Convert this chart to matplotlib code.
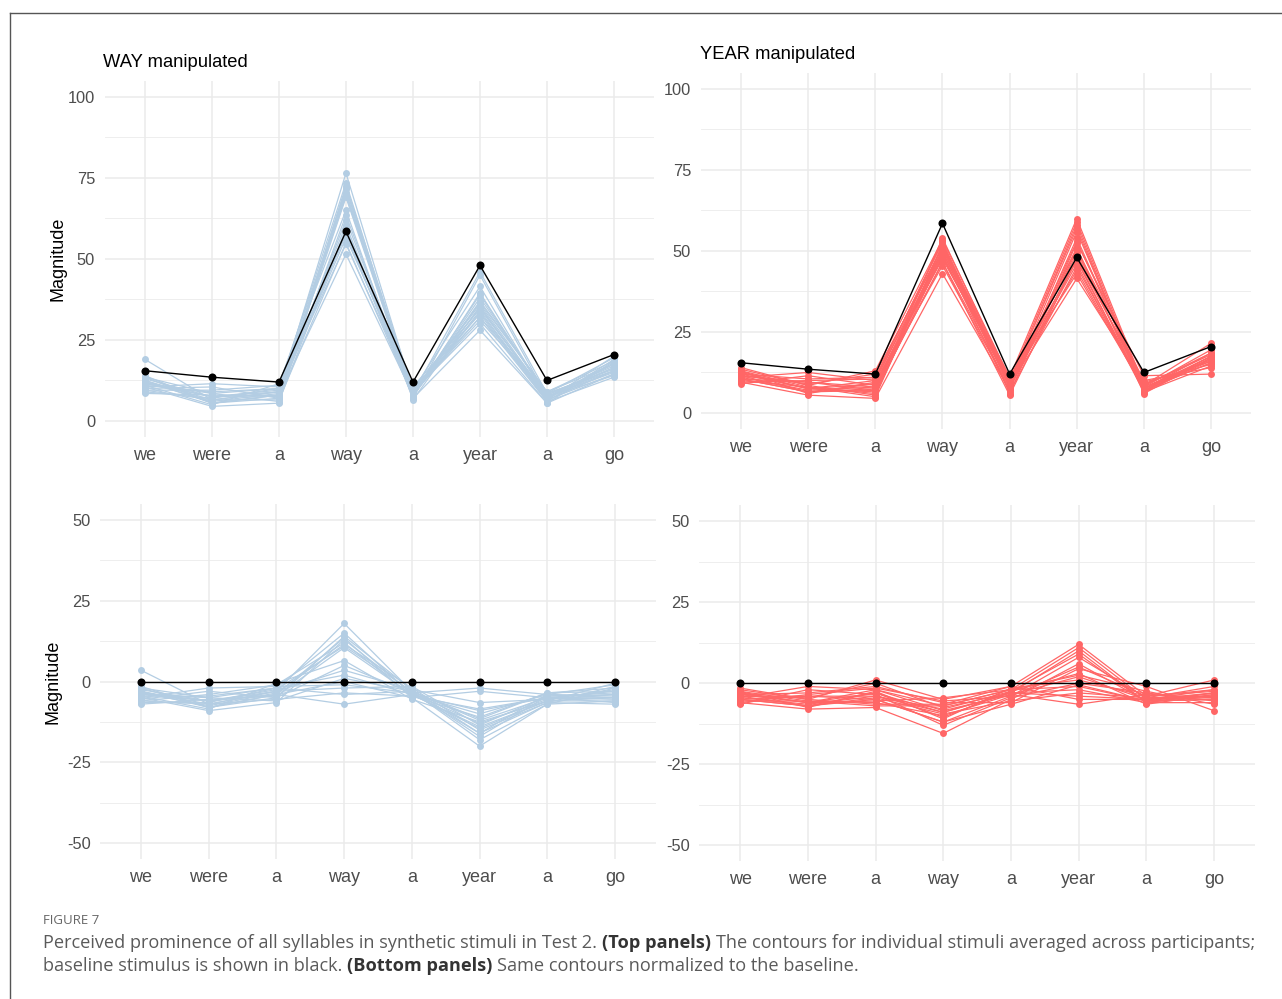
import numpy as np
import matplotlib
matplotlib.use('Agg')
import matplotlib.pyplot as plt
from matplotlib.lines import Line2D
from matplotlib.transforms import IdentityTransform

plt.rcParams['font.family'] = ['Liberation Sans', 'DejaVu Sans']
plt.rcParams['axes.unicode_minus'] = False

syllables = ['we', 'were', 'a', 'way', 'a', 'year', 'a', 'go']

# baseline stimulus, magnitude averaged across participants
baseline = [15.5, 13.5, 12.0, 58.5, 12.0, 48.0, 12.5, 20.5]

# WAY manipulated: stimulus minus baseline, one list per syllable (20 stimuli)
way_we   = [3.5, -2, -3, -4, -5, -6, -3.5, -2.5, -7, -4.5, -5.5, -3, -6.5, -4, -2, -5, -3.5, -6, -4.5, -1.5]
way_were = [-7, -5, -8, -6, -9, -4, -7.5, -6, -5.5, -8.5, -3, -7, -6.5, -5, -8, -2, -6, -7, -4.5, -8]
way_a1   = [-3, -2, -5, -4, -6.5, -1, -3.5, -2.5, -4.5, -0.5, -5, -3, -2, -6, -4, -1.5, -3, -5.5, -2, -4]
way_way  = [18, 15, 14, 13.5, 13, 12, 11.5, 11, 10.5, 6.5, 5, 3.5, 2, 1, 0, -1, -2, -3.5, -4, -7]
way_a2   = [-3, -4, -2.5, -5, -3.5, -4.5, -2, -3, -4, -5.5, -3.5, -2.5, -4, -3, -5, -3.5, -1.5, -4.5, -3, -4]
way_year = [-12, -14, -16, -20, -13, -11, -15, -17, -9, -12.5, -2, -6.5, -14.5, -11.5, -3, -16, -13.5, -8.5, -18, -10]
way_a3   = [-5, -6, -4, -7, -5.5, -3.5, -6.5, -4.5, -5, -6, -4, -5.5, -6, -3.5, -5, -6.5, -4.5, -5, -7, -4]
way_go   = [-3, -5, -1, -6, -4, -2, -7, -3.5, -5.5, -0.5, -4.5, -2.5, -6, -3, -5, -1.5, -4, -6.5, -2, -5]

# YEAR manipulated: stimulus minus baseline
year_we   = [-2, -3, -4, -5, -6, -3.5, -4.5, -5.5, -2.5, -6.5, -3, -4, -5, -1.5, -4.5, -3.5, -6, -5, -2.5, -4]
year_were = [-5, -6, -7, -4, -8, -3, -6.5, -5.5, -7.5, -2, -6, -4.5, -7, -5, -1, -6, -3.5, -7, -5.5, -4]
year_a1   = [1, -2, -3, -5, -7.5, -1, -4, -6, -2.5, -3.5, -5.5, 0, -4.5, -6.5, -2, -3, -1.5, -5, -7, -4]
year_way  = [-5, -7, -9, -12, -15.5, -6, -8, -10, -11, -13, -4.5, -7.5, -9.5, -6.5, -8.5, -10.5, -5.5, -12, -7, -9]
year_a2   = [-1, -2, -3, -4, -5, -6, -2.5, -3.5, -1.5, -4.5, -2, -3, -5.5, -1, -3.5, -2.5, -4, -6.5, -2, -3]
year_year = [12, 11, 10, 8, 6, 4.5, 3, 2, 1, 0, -1, -2, -3, -5, -6.5, 9, 5, -0.5, 2.5, -4]
year_a3   = [-4, -5, -6, -4.5, -5.5, -1, -6.5, -5, -4, -3, -5.5, -6, -4.5, -5, -3.5, -6, -4, -5.5, -2.5, -5]
year_go   = [1, -2, -3, -4, -5, -8.5, -3.5, -4.5, -2.5, -5.5, -3, -6, -1, -4, -4.5, -3.5, -2, -5, -6.5, -3]

way_diff = np.column_stack([way_we, way_were, way_a1, way_way, way_a2, way_year, way_a3, way_go])
year_diff = np.column_stack([year_we, year_were, year_a1, year_way, year_a2, year_year, year_a3, year_go])
base = np.array(baseline)

BLUE = '#B3CDE3'
RED = '#FF6666'
GRID = '#EBEBEB'
TICK = '#4D4D4D'

fig = plt.figure(figsize=(12.82, 9.99), dpi=100)

ax_tl = fig.add_axes([0.0817, 0.5624, 0.4286, 0.3568])
ax_tr = fig.add_axes([0.5466, 0.5704, 0.4295, 0.3568])
ax_bl = fig.add_axes([0.0783, 0.1399, 0.4331, 0.3557])
ax_br = fig.add_axes([0.5456, 0.1379, 0.4331, 0.3564])


def style(ax, lim, major, minor):
    ax.set_xlim(-0.6, len(syllables) - 0.4)
    ax.set_ylim(*lim)
    ax.set_xticks(range(len(syllables)))
    ax.set_xticklabels(syllables)
    ax.set_yticks(major)
    ax.set_yticks(minor, minor=True)
    for s in ax.spines.values():
        s.set_visible(False)
    ax.tick_params(axis='both', which='both', length=0, colors=TICK)
    ax.tick_params(axis='x', pad=7, labelsize=13)
    ax.tick_params(axis='y', pad=7, labelsize=11.8)
    ax.grid(True, which='major', color=GRID, lw=1.1)
    ax.grid(True, which='minor', axis='y', color=GRID, lw=0.6)
    ax.set_axisbelow(True)


def draw(ax, rows, colour, ref):
    x = np.arange(len(syllables))
    for r in rows:
        ax.plot(x, r, color=colour, lw=0.9, marker='o', ms=5.0, mec='none', zorder=2)
    ax.plot(x, ref, color='black', lw=1.0, marker='o', ms=5.8, mec='none', zorder=3)


top_major = [0, 25, 50, 75, 100]
top_minor = [12.5, 37.5, 62.5, 87.5]
bot_major = [-50, -25, 0, 25, 50]
bot_minor = [-37.5, -12.5, 12.5, 37.5]

style(ax_tl, (-5, 105), top_major, top_minor)
style(ax_tr, (-5, 105), top_major, top_minor)
style(ax_bl, (-55, 55), bot_major, bot_minor)
style(ax_br, (-55, 55), bot_major, bot_minor)

draw(ax_tl, way_diff + base, BLUE, base)
draw(ax_tr, year_diff + base, RED, base)
draw(ax_bl, way_diff, BLUE, np.zeros(len(syllables)))
draw(ax_br, year_diff, RED, np.zeros(len(syllables)))

ax_tl.set_title('WAY manipulated', loc='left', fontsize=13.2, pad=10, x=-0.003)
ax_tr.set_title('YEAR manipulated', loc='left', fontsize=13.2, pad=10, x=-0.001)
ax_tl.set_ylabel('Magnitude', fontsize=13, labelpad=1)
ax_bl.set_ylabel('Magnitude', fontsize=13, labelpad=4)

# frame around the figure
fig.add_artist(Line2D([9.5 / 1282, 9.5 / 1282], [0, 1 - 12.5 / 999], color='#555555', lw=1.0))
fig.add_artist(Line2D([9.5 / 1282, 1], [1 - 12.5 / 999, 1 - 12.5 / 999], color='#555555', lw=1.0))

# caption
cap_font = ['Open Sans', 'DejaVu Sans']
fig.text(43, 999 - 924, 'FIGURE 7', transform=IdentityTransform(), family=cap_font,
         fontsize=9.5, color='#666666')

renderer = fig.canvas.get_renderer()


def text_width(s, **kw):
    t = fig.text(0, 0, s, transform=IdentityTransform(), **kw)
    w = t.get_window_extent(renderer).width
    t.remove()
    return w


def runs_line(x, y, runs, size):
    space = text_width('a a', family=cap_font, fontsize=size) - text_width('aa', family=cap_font, fontsize=size)
    for s, bold in runs:
        kw = dict(family=cap_font, fontsize=size, fontweight='bold' if bold else 'normal',
                  color='#333333' if bold else '#5A5A5A')
        t = fig.text(x, y, s, transform=IdentityTransform(), **kw)
        x += t.get_window_extent(renderer).width + space


cap_size = 13.1
runs_line(43, 999 - 948, [('Perceived prominence of all syllables in synthetic stimuli in Test 2.', False),
                          ('(Top panels)', True),
                          ('The contours for individual stimuli averaged across participants;', False)], cap_size)
runs_line(43, 999 - 971, [('baseline stimulus is shown in black.', False),
                          ('(Bottom panels)', True),
                          ('Same contours normalized to the baseline.', False)], cap_size)

fig.savefig('out.png', dpi=100)
